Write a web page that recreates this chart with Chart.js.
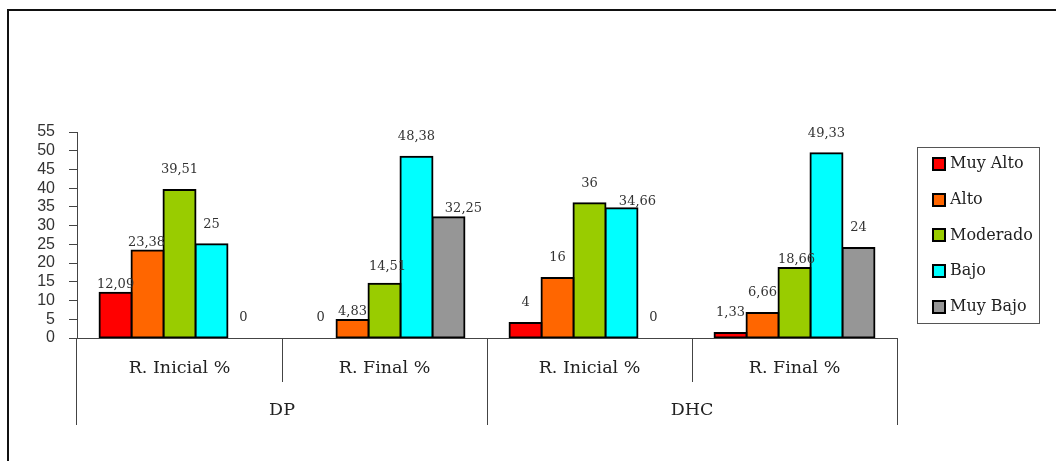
<!DOCTYPE html>
<html>
<head>
<meta charset="utf-8">
<script src="https://cdn.jsdelivr.net/npm/chart.js@4/dist/chart.umd.min.js"></script>
<style>
  html, body { margin: 0; padding: 0; background: #fff; }
  canvas { display: block; }
</style>
</head>
<body>
<canvas id="c" width="1056" height="461"></canvas>
<script>
// Categories (two-level axis) and series
const categories = ['R. Inicial %', 'R. Final %', 'R. Inicial %', 'R. Final %'];
const groups = ['DP', 'DHC'];
const yTicks = [0, 5, 10, 15, 20, 25, 30, 35, 40, 45, 50, 55];

const muyAlto  = [12.09, 0, 4, 1.33];
const alto     = [23.38, 4.83, 16, 6.66];
const moderado = [39.51, 14.51, 36, 18.66];
const bajo     = [25, 48.38, 34.66, 49.33];
const muyBajo  = [0, 32.25, 0, 24];

const seriesNames = ['Muy Alto', 'Alto', 'Moderado', 'Bajo', 'Muy Bajo'];
const seriesColors = ['#FF0000', '#FF6600', '#99CC00', '#00FFFF', '#969696'];

// Label placement tweaks where value labels would collide: "dataset-index": [dx, dy]
const labelNudge = {
  '0-0': [0, 12], '1-0': [-1, 12], '1-1': [0, 12], '2-1': [3, 3],
  '4-1': [15, 11], '3-2': [16, 13], '2-3': [2, 12]
};

const SERIF = '"DejaVu Serif", serif';
const SANS = '"Liberation Sans", Arial, sans-serif';

const frame = {
  id: 'frame',
  beforeDraw(chart) {
    const ctx = chart.ctx;
    ctx.save();
    ctx.fillStyle = '#fff';
    ctx.fillRect(0, 0, chart.width, chart.height);
    ctx.strokeStyle = '#111';
    ctx.lineWidth = 2;
    ctx.beginPath();
    ctx.moveTo(chart.width, 10);
    ctx.lineTo(8, 10);
    ctx.lineTo(8, chart.height);
    ctx.stroke();
    ctx.restore();
  }
};

const valueLabels = {
  id: 'valueLabels',
  afterDatasetsDraw(chart) {
    const ctx = chart.ctx;
    ctx.save();
    ctx.font = '13px ' + SERIF;
    ctx.fillStyle = '#333';
    ctx.textAlign = 'center';
    ctx.textBaseline = 'middle';
    chart.data.datasets.forEach((ds, di) => {
      const meta = chart.getDatasetMeta(di);
      meta.data.forEach((bar, i) => {
        const v = ds.data[i];
        const n = labelNudge[di + '-' + i] || [0, 0];
        const txt = String(v).replace('.', ',');
        ctx.fillText(txt, bar.x + n[0], bar.y - 20 + n[1]);
      });
    });
    ctx.restore();
  }
};

const groupAxis = {
  id: 'groupAxis',
  afterDraw(chart) {
    const ctx = chart.ctx;
    const xs = chart.scales.x;
    const area = chart.chartArea;
    const y0 = area.bottom;
    const left = area.left, right = area.right;
    const bounds = [];
    for (let i = 0; i < categories.length - 1; i++) {
      bounds.push((xs.getPixelForValue(i) + xs.getPixelForValue(i + 1)) / 2);
    }
    ctx.save();
    ctx.strokeStyle = '#444';
    ctx.lineWidth = 1;
    const vline = (x, y1) => {
      const xx = Math.round(x) + 0.5;
      ctx.beginPath();
      ctx.moveTo(xx, y0);
      ctx.lineTo(xx, y1);
      ctx.stroke();
    };
    vline(left - 1, 425);
    vline(right, 425);
    bounds.forEach((b, i) => vline(b, i === 1 ? 425 : 382));

    ctx.fillStyle = '#222';
    ctx.font = '17.5px ' + SERIF;
    ctx.textAlign = 'center';
    ctx.textBaseline = 'middle';
    categories.forEach((c, i) => ctx.fillText(c, xs.getPixelForValue(i), 368));
    groups.forEach((g, gi) => {
      const a = gi === 0 ? left : bounds[1];
      const b = gi === 0 ? bounds[1] : right;
      ctx.fillText(g, (a + b) / 2, 410);
    });
    ctx.restore();
  }
};

const boxedLegend = {
  id: 'boxedLegend',
  afterDraw(chart) {
    const ctx = chart.ctx;
    ctx.save();
    ctx.strokeStyle = '#555';
    ctx.lineWidth = 1;
    ctx.strokeRect(917.5, 147.5, 122, 176);
    ctx.font = '16px ' + SERIF;
    ctx.textBaseline = 'middle';
    ctx.textAlign = 'left';
    chart.data.datasets.forEach((ds, i) => {
      const cy = 164 + i * 35.7;
      ctx.fillStyle = ds.backgroundColor;
      ctx.fillRect(933, Math.round(cy) - 6, 12, 12);
      ctx.strokeStyle = '#000';
      ctx.lineWidth = 2;
      ctx.strokeRect(933, Math.round(cy) - 6, 12, 12);
      ctx.fillStyle = '#222';
      ctx.fillText(ds.label, 950, cy);
    });
    ctx.restore();
  }
};

const seriesData = [muyAlto, alto, moderado, bajo, muyBajo];

new Chart(document.getElementById('c'), {
  type: 'bar',
  data: {
    labels: categories,
    datasets: seriesData.map((d, i) => ({
      label: seriesNames[i],
      data: d,
      backgroundColor: seriesColors[i],
      borderColor: '#000',
      borderWidth: 2,
      borderSkipped: false,
      inflateAmount: 1,
      barPercentage: 1,
      categoryPercentage: 0.78
    }))
  },
  options: {
    responsive: false,
    animation: false,
    devicePixelRatio: 1,
    layout: { padding: { left: 0, right: 159, top: 132, bottom: 0 } },
    plugins: { legend: { display: false }, tooltip: { enabled: false } },
    scales: {
      x: {
        ticks: { display: false },
        grid: { display: false },
        border: { display: true, color: '#444', width: 1 },
        afterFit(s) { s.height = 123; }
      },
      y: {
        min: 0,
        max: 55,
        afterBuildTicks(s) { s.ticks = yTicks.map(v => ({ value: v })); },
        ticks: {
          autoSkip: false,
          padding: 14,
          color: '#333',
          font: { family: SANS, size: 16 }
        },
        grid: { drawOnChartArea: false, drawTicks: true, tickLength: 8, color: '#444' },
        border: { display: true, color: '#444', width: 1 },
        afterFit(s) { s.width = 77; }
      }
    }
  },
  plugins: [frame, valueLabels, groupAxis, boxedLegend]
});
</script>
</body>
</html>
